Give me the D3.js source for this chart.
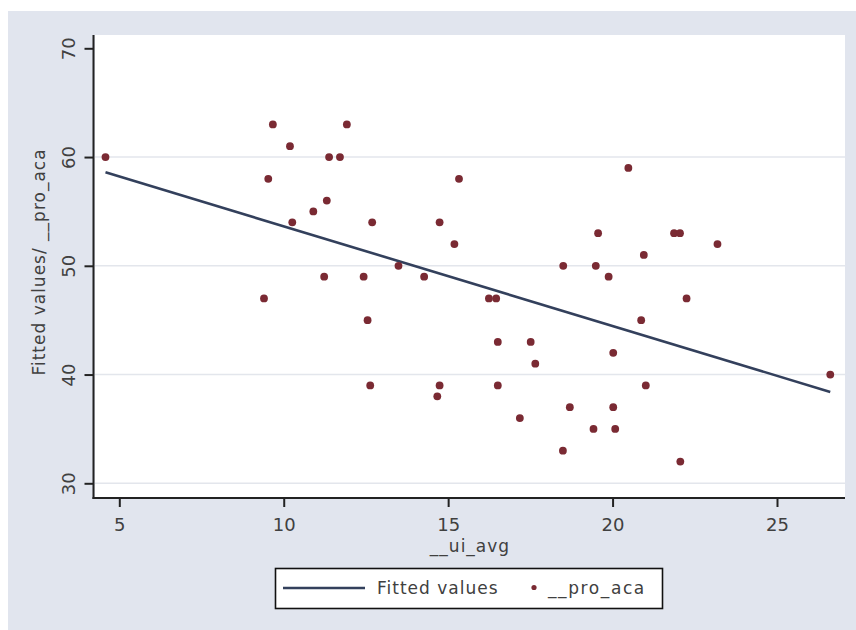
<!DOCTYPE html>
<html>
<head>
<meta charset="utf-8">
<script src="https://cdn.jsdelivr.net/npm/d3@7"></script>
<style>
  html, body { margin: 0; padding: 0; background: #ffffff; }
  svg { display: block; }
  text { font-family: "DejaVu Sans", sans-serif; fill: #404040; }
</style>
</head>
<body>
<svg id="chart" width="856" height="630"></svg>
<script>
// ---- data ----
const uiAvg = [4.58, 9.40, 9.53, 9.67, 10.19, 10.26, 10.90, 11.23, 11.31, 11.38,
  11.71, 11.92, 12.43, 12.55, 12.63, 12.69, 13.49, 14.27, 14.67, 14.74,
  14.74, 15.19, 15.33, 16.24, 16.46, 16.51, 16.51, 17.18, 17.51, 17.65,
  18.49, 18.50, 18.70, 19.42, 19.49, 19.56, 19.88, 20.02, 20.02, 20.08,
  20.48, 20.87, 20.95, 21.01, 21.87, 22.05, 22.06, 22.25, 23.19, 26.62];
const proAca = [60, 47, 58, 63, 61, 54, 55, 49, 56, 60,
  60, 63, 49, 45, 39, 54, 50, 49, 38, 39,
  54, 52, 58, 47, 47, 43, 39, 36, 43, 41,
  33, 50, 37, 35, 50, 53, 49, 42, 37, 35,
  59, 45, 51, 39, 53, 53, 32, 47, 52, 40];
const fitX = [4.58, 26.62];
const fitY = [58.6, 38.4];
const xTicks = [5, 10, 15, 20, 25];
const yTicks = [30, 40, 50, 60, 70];
const yGrid = [30, 40, 50, 60];
const xTitle = "__ui_avg";
const yTitle = "Fitted values/ __pro_aca";
const legendLabels = ["Fitted values", "__pro_aca"];

// ---- layout ----
const svg = d3.select("#chart");
const plot = {left: 95, right: 845, top: 35, bottom: 497};
const axisX = 93.5, axisY = 498;
const x = d3.scaleLinear().domain([5, 25]).range([119.3, 777]);
const y = d3.scaleLinear().domain([30, 70]).range([483.3, 48.3]);

const lineCol = "#33405c";
const dotCol = "#7a2a33";
const bgCol = "#e1e5ee";

svg.append("rect").attr("x", 8).attr("y", 11).attr("width", 848).attr("height", 619).attr("fill", bgCol);
svg.append("rect").attr("x", plot.left).attr("y", plot.top)
  .attr("width", plot.right - plot.left).attr("height", plot.bottom - plot.top).attr("fill", "#ffffff");

// grid
svg.append("g").selectAll("line").data(yGrid).join("line")
  .attr("x1", plot.left).attr("x2", plot.right)
  .attr("y1", d => y(d)).attr("y2", d => y(d))
  .attr("stroke", "#e3e6ec").attr("stroke-width", 1.5);

// fitted line
const fitData = fitX.map((v, i) => [v, fitY[i]]);
svg.append("path").datum(fitData)
  .attr("d", d3.line().x(d => x(d[0])).y(d => y(d[1])))
  .attr("fill", "none").attr("stroke", lineCol).attr("stroke-width", 2.6);

// points
svg.append("g").selectAll("circle").data(uiAvg.map((v, i) => [v, proAca[i]])).join("circle")
  .attr("cx", d => x(d[0])).attr("cy", d => y(d[1])).attr("r", 3.9)
  .attr("fill", dotCol);

// axes
const xAxis = svg.append("g").attr("transform", `translate(0,${axisY})`)
  .call(d3.axisBottom(x).tickValues(xTicks).tickSize(9).tickSizeOuter(0).tickFormat(d3.format("d")));
xAxis.select(".domain").remove();
xAxis.selectAll(".tick line").attr("stroke", "#222").attr("stroke-width", 2);
xAxis.selectAll(".tick text").attr("dy", null).attr("y", 33)
  .style("font-size", "18px").style("font-family", "DejaVu Sans").attr("fill", "#404040");

const yAxis = svg.append("g").attr("transform", `translate(${axisX},0)`)
  .call(d3.axisLeft(y).tickValues(yTicks).tickSize(9).tickSizeOuter(0).tickFormat(d3.format("d")));
yAxis.select(".domain").remove();
yAxis.selectAll(".tick line").attr("stroke", "#222").attr("stroke-width", 2);
yAxis.selectAll(".tick text").attr("dy", null).attr("x", 0).attr("y", -19)
  .attr("transform", "rotate(-90)").attr("text-anchor", "middle")
  .style("font-size", "18px").style("font-family", "DejaVu Sans").attr("fill", "#404040");

svg.append("line").attr("x1", axisX).attr("x2", axisX).attr("y1", plot.top).attr("y2", axisY + 1)
  .attr("stroke", "#222").attr("stroke-width", 2);
svg.append("line").attr("x1", axisX - 1).attr("x2", plot.right).attr("y1", axisY).attr("y2", axisY)
  .attr("stroke", "#222").attr("stroke-width", 2);

// titles
svg.append("text").attr("x", (plot.left + plot.right) / 2).attr("y", 552)
  .attr("text-anchor", "middle").style("font-size", "17px").style("letter-spacing", "1px").text(xTitle);
svg.append("text").attr("transform", `translate(45,262) rotate(-90)`)
  .attr("text-anchor", "middle").style("font-size", "17px").style("letter-spacing", "1px").text(yTitle);

// legend
const lg = svg.append("g");
lg.append("rect").attr("x", 275.5).attr("y", 568.5).attr("width", 387).attr("height", 40)
  .attr("fill", "#ffffff").attr("stroke", "#111").attr("stroke-width", 1.6);
lg.append("line").attr("x1", 283).attr("x2", 365).attr("y1", 588).attr("y2", 588)
  .attr("stroke", lineCol).attr("stroke-width", 2.6);
lg.append("text").attr("x", 377).attr("y", 594).style("font-size", "17px").style("letter-spacing", "1px").text(legendLabels[0]);
lg.append("circle").attr("cx", 534).attr("cy", 587.5).attr("r", 2.6).attr("fill", dotCol);
lg.append("text").attr("x", 548).attr("y", 594).style("font-size", "17px").style("letter-spacing", "1.6px").text(legendLabels[1]);
</script>
</body>
</html>
